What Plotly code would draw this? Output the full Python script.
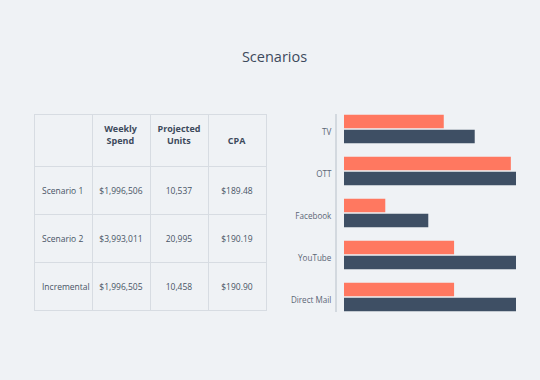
import plotly.graph_objects as go

W, H = 540, 380

channels = ["TV", "OTT", "Facebook", "YouTube", "Direct Mail"]
scenario1 = [58, 97, 24, 64, 64]
scenario2 = [76, 100, 49, 100, 100]

NB = "\u00a0"
header = ["", "Weekly<br>" + NB + "Spend", "Projected<br>" + NB * 4 + "Units", NB + "<br>CPA"]
row_labels = ["Scenario 1", "Scenario 2", "Incremental"]
weekly_spend = ["$1,996,506", "$3,993,011", "$1,996,505"]
projected_units = ["10,537", "20,995", "10,458"]
cpa = ["$189.48", "$190.19", "$190.90"]

BG = "#eff2f5"
ORANGE = "#ff7860"
DARK = "#3e4f64"
LINE = "#d7dce2"
TEXT = "#3d4a5c"
CELLTEXT = "#485465"
FONT = "Open Sans"


def cell(s):
    # a blank first line sets the text mid-row; keep words together
    return NB + "<br>" + s.replace(" ", NB)


fig = go.Figure()

fig.add_trace(go.Table(
    domain=dict(x=[34 / W, 266 / W], y=[1 - 314 / H, 1 - 114 / H]),
    columnwidth=[1, 1, 1, 1],
    header=dict(
        values=header,
        height=52,
        fill_color=BG,
        line=dict(color=LINE, width=1),
        align="center",
        font=dict(family=FONT, size=9, color=TEXT, weight="bold"),
    ),
    cells=dict(
        values=[[cell(v) for v in col] for col in
                [row_labels, weekly_spend, projected_units, cpa]],
        height=48,
        fill_color=BG,
        line=dict(color=LINE, width=1),
        align=["left", "center", "center", "center"],
        font=dict(family=FONT, size=8.5, color=CELLTEXT),
    ),
))

fig.add_trace(go.Bar(
    y=channels, x=scenario1, orientation="h",
    marker=dict(color=ORANGE, line=dict(width=0)),
    showlegend=False, hoverinfo="skip",
))
fig.add_trace(go.Bar(
    y=channels, x=scenario2, orientation="h",
    marker=dict(color=DARK, line=dict(width=0)),
    showlegend=False, hoverinfo="skip",
))

fig.update_layout(
    width=W, height=H,
    margin=dict(l=0, r=0, t=0, b=0),
    paper_bgcolor=BG, plot_bgcolor=BG,
    hovermode=False,
    barmode="group", bargap=0.286, bargroupgap=0.11,
    title=dict(text="Scenarios", x=274.5 / W, xanchor="center", y=1 - 57 / H, yanchor="middle",
               font=dict(family=FONT, size=14.5, color=TEXT)),
    xaxis=dict(domain=[337 / W, 516 / W], range=[-4.07, 100], showgrid=False,
               zeroline=False, showticklabels=False, showline=False, fixedrange=True),
    yaxis=dict(domain=[1 - 312 / H, 1 - 114 / H], type="category",
               categoryorder="array", categoryarray=channels,
               range=[4.357, -0.357], showgrid=False, zeroline=False,
               showline=True, linecolor="#d3d9df", linewidth=2,
               ticks="", ticklabelstandoff=2, ticklabelshift=-3, fixedrange=True,
               tickfont=dict(family=FONT, size=8.1, color="#5b6675")),
    font=dict(family=FONT),
)

fig.write_html(
    "out.html",
    config={"displayModeBar": False},
    post_script="document.body.style.margin='0';document.body.style.background='#eff2f5';",
)
